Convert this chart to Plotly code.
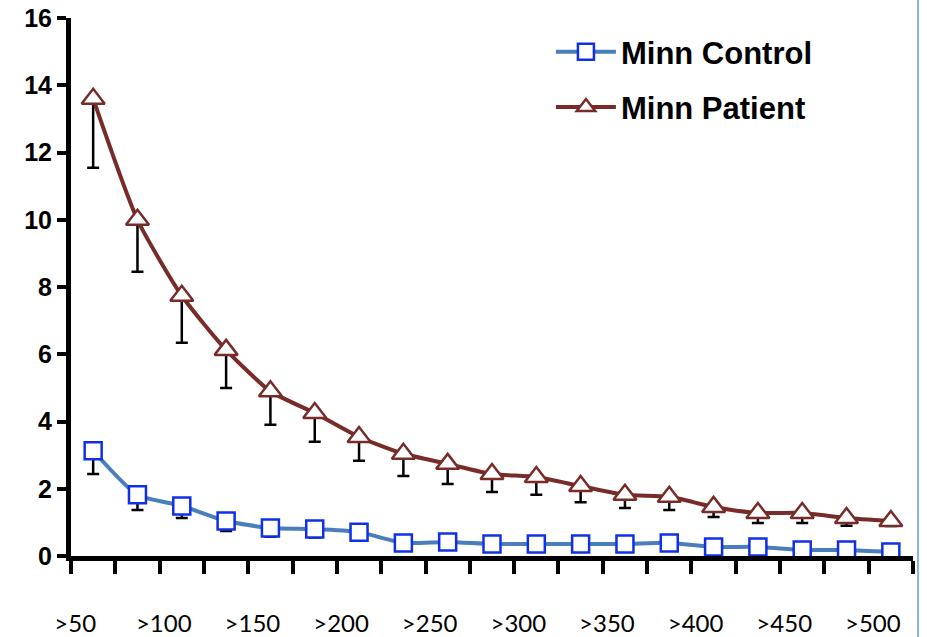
import plotly.graph_objects as go

categories = [">50", ">75", ">100", ">125", ">150", ">175", ">200", ">225", ">250", ">275",
              ">300", ">325", ">350", ">375", ">400", ">425", ">450", ">475", ">500"]
shown_labels = [c if i % 2 == 0 else "" for i, c in enumerate(categories)]

control = [3.13, 1.82, 1.49, 1.04, 0.83, 0.80, 0.71, 0.39, 0.42, 0.36,
           0.36, 0.36, 0.36, 0.39, 0.27, 0.27, 0.18, 0.18, 0.12]
control_err = [0.69, 0.45, 0.36, 0.30, 0.26, 0.25, 0.23, 0.12, 0.12, 0.10,
               0.10, 0.10, 0.10, 0.10, 0.08, 0.08, 0.06, 0.06, 0.05]
patient = [13.6, 10.0, 7.74, 6.13, 4.90, 4.25, 3.54, 3.04, 2.74, 2.44,
           2.35, 2.08, 1.82, 1.76, 1.46, 1.28, 1.28, 1.13, 1.04]
patient_err = [2.05, 1.55, 1.40, 1.13, 1.00, 0.85, 0.71, 0.66, 0.60, 0.54,
               0.53, 0.48, 0.39, 0.39, 0.30, 0.30, 0.30, 0.23, 0.15]
zeros = [0] * len(categories)

fig = go.Figure()
fig.add_trace(go.Scatter(
    x=categories, y=control, name="Minn Control", mode="lines+markers", legendgroup="c",
    line=dict(color="#4A7EBB", width=4, shape="spline", smoothing=0.6),
    marker=dict(symbol="square", size=17, color="white", line=dict(color="#1030E8", width=2.5)),
    error_y=dict(type="data", symmetric=False, array=zeros, arrayminus=control_err,
                 color="black", thickness=2.5, width=6),
))
fig.add_trace(go.Scatter(
    x=categories, y=patient, name="Minn Patient", mode="lines+markers", legendgroup="p",
    line=dict(color="#772C2A", width=4, shape="spline", smoothing=0.6),
    marker=dict(symbol="triangle-up", size=20, color="white", line=dict(color="#772C2A", width=2.5)),
    error_y=dict(type="data", symmetric=False, array=zeros, arrayminus=patient_err,
                 color="black", thickness=2.5, width=6),
))

fig.update_layout(
    width=927, height=637,
    margin=dict(l=71, r=14, t=18, b=81, autoexpand=False),
    plot_bgcolor="white", paper_bgcolor="white",
    showlegend=True,
    legend=dict(x=0.57, y=0.987, xanchor="left", yanchor="top",
                font=dict(family="Liberation Sans, Arial", size=31, color="black", weight="bold"),
                bgcolor="rgba(0,0,0,0)", itemwidth=60, tracegroupgap=12, traceorder="grouped"),
    shapes=[dict(type="line", xref="paper", yref="paper", x0=1.006, x1=1.006, y0=-0.2, y1=1.05,
                 line=dict(color="#8DB3E2", width=2))],
)
fig.update_xaxes(
    type="category", categoryorder="array", categoryarray=categories,
    range=[-0.5, 18.5], tickson="boundaries",
    tickvals=categories, ticktext=shown_labels, tickangle=0, automargin=False,
    showline=True, linecolor="black", linewidth=5,
    ticks="outside", ticklen=13, tickwidth=4, tickcolor="black",
    showgrid=False, zeroline=False,
    tickfont=dict(family="Lato, Open Sans", size=24, color="black"),
    ticklabelstandoff=42, ticklabelshift=-18,
)
fig.update_yaxes(
    range=[0, 16], tickvals=[0, 2, 4, 6, 8, 10, 12, 14, 16], automargin=False,
    showline=True, linecolor="black", linewidth=5,
    ticks="outside", ticklen=9, tickwidth=4, tickcolor="black",
    showgrid=False, zeroline=False,
    tickfont=dict(family="Liberation Sans, Arial", size=25, color="black", weight="bold"),
)

fig.write_html("out.html")
